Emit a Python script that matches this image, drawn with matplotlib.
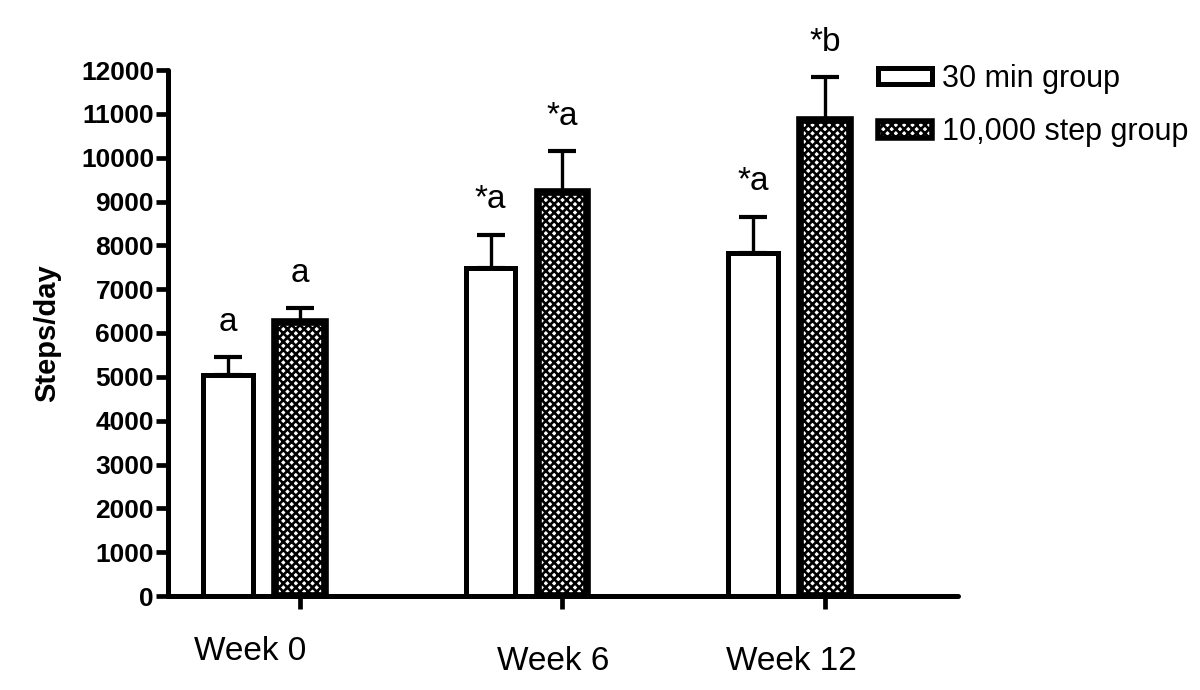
import numpy as np
import matplotlib
matplotlib.use("Agg")
from matplotlib import pyplot as plt
from matplotlib.patches import Patch

plt.rcParams['font.family'] = ['Liberation Sans', 'DejaVu Sans']
plt.rcParams['hatch.linewidth'] = 1.9

weeks = ["Week 0", "Week 6", "Week 12"]
mean_30min = [5040, 7480, 7830]
sem_30min = [410, 760, 820]
mean_10k = [6250, 9220, 10860]
sem_10k = [320, 930, 980]
letters_30min = ["a", "*a", "*a"]
letters_10k = ["a", "*a", "*b"]

x = np.arange(len(weeks))
w = 0.19
off = 0.137

fig = plt.figure(figsize=(12, 6.9), dpi=100)
ax = fig.add_axes([168/1200, 1 - 596/690, (958 - 168)/1200, 526/690])

ax.errorbar(x - off, mean_30min, yerr=[np.zeros(3), sem_30min], fmt='none',
            ecolor='black', elinewidth=2.4, capsize=10, capthick=3, zorder=1)
ax.errorbar(x + off, mean_10k, yerr=[np.zeros(3), sem_10k], fmt='none',
            ecolor='black', elinewidth=2.4, capsize=10, capthick=3, zorder=1)

ax.bar(x - off, mean_30min, w, facecolor='white', edgecolor='black',
       linewidth=3.6, zorder=2, label='30 min group')
ax.bar(x + off, mean_10k, w, facecolor='white', edgecolor='black',
       hatch='xxxx', linewidth=5.5, zorder=2, label='10,000 step group')

for i in range(len(weeks)):
    ax.annotate(letters_30min[i], (x[i] - off, mean_30min[i] + sem_30min[i]),
                xytext=(0, 19), textcoords='offset points', ha='center',
                va='baseline', fontsize=24, annotation_clip=False)
    ax.annotate(letters_10k[i], (x[i] + off, mean_10k[i] + sem_10k[i]),
                xytext=(0, 19), textcoords='offset points', ha='center',
                va='baseline', fontsize=24, annotation_clip=False)

ax.set_xlim(-0.366, 2.644)
ax.set_ylim(0, 12000)
ax.set_yticks(np.arange(0, 12001, 1000))
ax.set_xticks(x + off)
ax.set_xticklabels([])
for lbl in ax.get_yticklabels():
    lbl.set_fontweight('bold')
ax.tick_params(axis='y', length=9, width=3.4, labelsize=19, pad=1)
ax.tick_params(axis='x', length=9, width=3.4)

# week labels sit a bit off the ticks like in the original
label_x = [-0.053, 1.10, 2.01]
label_dy = [-40, -47, -47]
for i in range(len(weeks)):
    ax.annotate(weeks[i], (label_x[i], 0), xycoords=('data', 'axes fraction'),
                xytext=(0, label_dy[i]), textcoords='offset points',
                ha='center', va='center', fontsize=24, annotation_clip=False)

ax.set_ylabel('Steps/day', fontsize=21, fontweight='bold', labelpad=14)

for s in ['top', 'right']:
    ax.spines[s].set_visible(False)
for s in ['left', 'bottom']:
    ax.spines[s].set_linewidth(3.6)
    ax.spines[s].set_capstyle('round')

handles = [Patch(facecolor='white', edgecolor='black', linewidth=3.6),
           Patch(facecolor='white', edgecolor='black', hatch='xxxx', linewidth=4)]
fig.legend(handles, ['30 min group', '10,000 step group'], loc='upper left',
           bbox_to_anchor=(878/1200, 1 - 64/690), frameon=False, fontsize=22,
           handlelength=1.76, handleheight=0.46, handletextpad=0.33,
           labelspacing=0.76, borderpad=0, borderaxespad=0)

fig.savefig('out.png', dpi=100)
